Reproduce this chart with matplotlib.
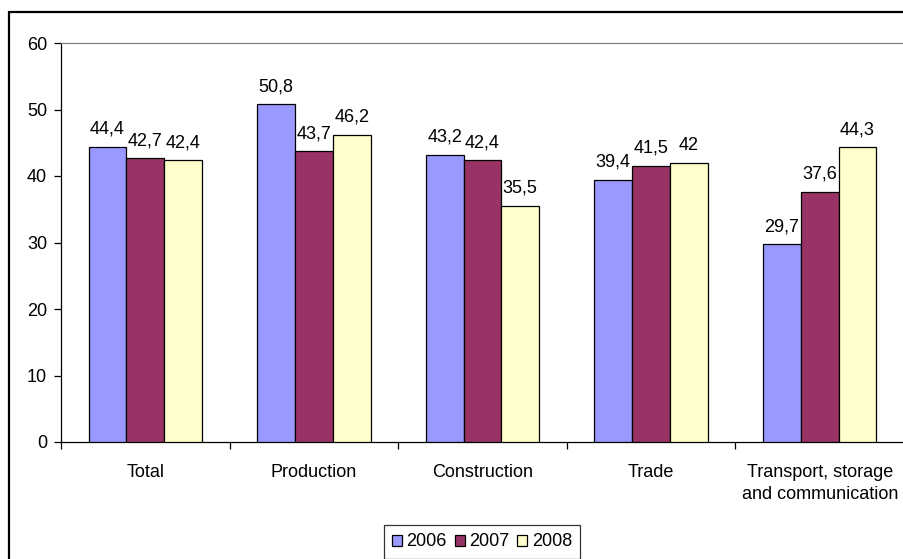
import matplotlib
matplotlib.use("Agg")
import matplotlib.pyplot as plt
import numpy as np
from matplotlib.patches import Rectangle

plt.rcParams['font.family'] = ['Liberation Sans', 'DejaVu Sans']

categories = ["Total", "Production", "Construction", "Trade", "Transport, storage\nand communication"]
years = ["2006", "2007", "2008"]
values_2006 = [44.4, 50.8, 43.2, 39.4, 29.7]
values_2007 = [42.7, 43.7, 42.4, 41.5, 37.6]
values_2008 = [42.4, 46.2, 35.5, 42.0, 44.3]
labels_2006 = ["44,4", "50,8", "43,2", "39,4", "29,7"]
labels_2007 = ["42,7", "43,7", "42,4", "41,5", "37,6"]
labels_2008 = ["42,4", "46,2", "35,5", "42", "44,3"]
colors = ["#9999FF", "#993366", "#FFFFCC"]

FS = 13
W, H = 904, 559
fig = plt.figure(figsize=(W / 100, H / 100), dpi=100)

# outer chart frame (extends past the right and bottom edges)
fig.patches.append(Rectangle((9 / W, -0.1), 1.2, 1 - 12 / H + 0.1, transform=fig.transFigure,
                             fill=False, edgecolor="black", linewidth=1.6, zorder=0))

ax = fig.add_axes([61 / W, 1 - 442 / H, (W - 61) / W, (442 - 43) / H])

x = np.arange(len(categories))
bw = 0.224
series = [(values_2006, labels_2006), (values_2007, labels_2007), (values_2008, labels_2008)]
for i, ((vals, labs), col, yr) in enumerate(zip(series, colors, years)):
    pos = x + (i - 1) * bw
    bars = ax.bar(pos, vals, width=bw, color=col, edgecolor="black", linewidth=0.9, label=yr, zorder=3)
    for b, v, lab in zip(bars, vals, labs):
        ax.annotate(lab, (b.get_x() + b.get_width() / 2, v), xytext=(0, 6.5), textcoords="offset points",
                    ha="center", va="bottom", fontsize=FS)

ax.set_xlim(-0.5, len(categories) - 0.5)
ax.set_ylim(0, 60)
ax.set_yticks(np.arange(0, 61, 10))
ax.set_xticks(np.arange(-0.5, len(categories) + 0.5, 1.0), minor=False)
ax.set_xticklabels([])
ax.set_xticks(x, minor=True)
ax.set_xticklabels(categories, minor=True, fontsize=FS, linespacing=1.45)
ax.tick_params(axis="x", which="minor", length=0, pad=15.5)
ax.tick_params(axis="x", which="major", direction="out", length=5, width=0.9)
ax.tick_params(axis="y", direction="out", length=5, width=0.9, pad=5, labelsize=FS)

for s in ["left", "bottom"]:
    ax.spines[s].set_linewidth(0.9)
ax.spines["right"].set_visible(False)
ax.spines["top"].set_color("#808080")
ax.spines["top"].set_linewidth(0.9)

leg = fig.legend(loc="center", bbox_to_anchor=(482 / W, 1 - 542 / H), ncol=3, fontsize=FS,
                 frameon=True, fancybox=False, edgecolor="black", handlelength=0.55, handleheight=0.55,
                 handletextpad=0.25, columnspacing=0.45, borderpad=0.45)
leg.get_frame().set_linewidth(0.9)

fig.savefig("out.png", dpi=100)
